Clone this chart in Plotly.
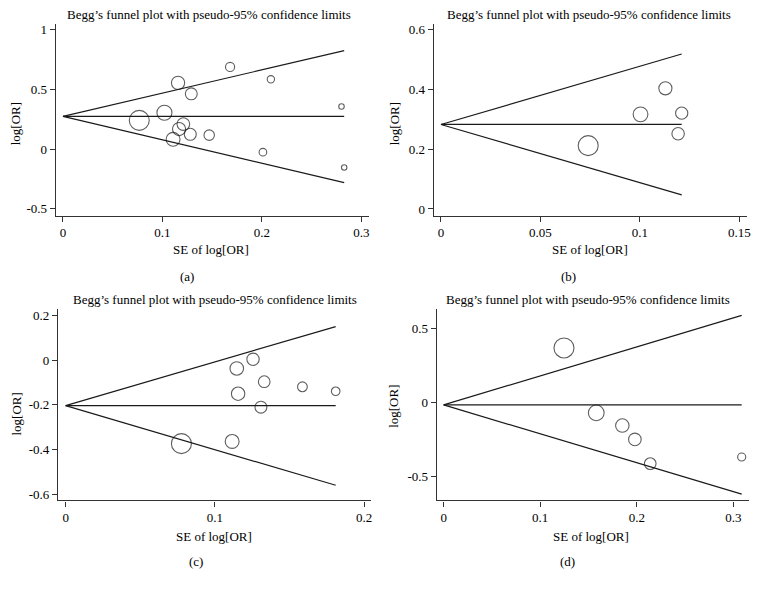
import plotly.graph_objects as go

# ---------------- data ----------------
# Panel (a)
a_se = [0.0767, 0.102, 0.1157, 0.129, 0.121, 0.1167, 0.1107, 0.128, 0.147, 0.168, 0.209, 0.280, 0.201, 0.2827]
a_logor = [0.242, 0.306, 0.556, 0.464, 0.211, 0.169, 0.083, 0.125, 0.118, 0.689, 0.586, 0.358, -0.025, -0.153]
a_pooled = 0.275
a_se_end = 0.2827
a_upper_end = 0.826
a_lower_end = -0.280

# Panel (b)
b_se = [0.074, 0.1003, 0.1128, 0.121, 0.1192]
b_logor = [0.212, 0.317, 0.404, 0.321, 0.252]
b_pooled = 0.283
b_se_end = 0.121
b_upper_end = 0.519
b_lower_end = 0.047

# Panel (c)
c_se = [0.0776, 0.1116, 0.1147, 0.1256, 0.1156, 0.1331, 0.1309, 0.1587, 0.181]
c_logor = [-0.373, -0.363, -0.037, 0.004, -0.150, -0.096, -0.210, -0.119, -0.139]
c_pooled = -0.203
c_se_end = 0.181
c_upper_end = 0.150
c_lower_end = -0.559

# Panel (d)
d_se = [0.1246, 0.158, 0.185, 0.198, 0.2139, 0.3086]
d_logor = [0.368, -0.072, -0.158, -0.252, -0.416, -0.371]
d_pooled = -0.018
d_se_end = 0.3086
d_upper_end = 0.589
d_lower_end = -0.623

# Tick labels
a_xticks = [0, 0.1, 0.2, 0.3]
a_xtext = ["0", "0.1", "0.2", "0.3"]
a_yticks = [-0.5, 0, 0.5, 1]
a_ytext = ["-0.5", "0", "0.5", "1"]
b_xticks = [0, 0.05, 0.1, 0.15]
b_xtext = ["0", "0.05", "0.1", "0.15"]
b_yticks = [0, 0.2, 0.4, 0.6]
b_ytext = ["0", "0.2", "0.4", "0.6"]
c_xticks = [0, 0.1, 0.2]
c_xtext = ["0", "0.1", "0.2"]
c_yticks = [-0.6, -0.4, -0.2, 0, 0.2]
c_ytext = ["-0.6", "-0.4", "-0.2", "0", "0.2"]
d_xticks = [0, 0.1, 0.2, 0.3]
d_xtext = ["0", "0.1", "0.2", "0.3"]
d_yticks = [-0.5, 0, 0.5]
d_ytext = ["-0.5", "0", "0.5"]

title_text = "Begg\u2019s funnel plot with pseudo-95% confidence limits"
xtitle_text = "SE of log[OR]"
ytitle_text = "log[OR]"
panel_labels = ["(a)", "(b)", "(c)", "(d)"]

# ---------------- layout helpers ----------------
W, H = 762, 589
FONT = "Liberation Serif, Times New Roman, serif"
LINE_COL = "#1a1a1a"
AXIS_COL = "#333333"
TEXT_COL = "#000000"

def px_x(p):
    return p / W

def px_y(p):
    return 1 - p / H

panels = [
    dict(se=a_se, lo=a_logor, pooled=a_pooled, se_end=a_se_end, up=a_upper_end, low=a_lower_end,
         xt=a_xticks, xtt=a_xtext, yt=a_yticks, ytt=a_ytext,
         xpx=(56, 370.7), ypx=(23, 215.7), xr=(-0.0073, 0.3074), yr=(-0.556, 1.05),
         title=(210, 14), xtitle=(212, 250), ytitle=(15, 123), lab=(188, 277)),
    dict(se=b_se, lo=b_logor, pooled=b_pooled, se_end=b_se_end, up=b_upper_end, low=b_lower_end,
         xt=b_xticks, xtt=b_xtext, yt=b_yticks, ytt=b_ytext,
         xpx=(436, 750.7), ypx=(23, 215.7), xr=(-0.00365, 0.1537), yr=(-0.0223, 0.62),
         title=(592, 14), xtitle=(593, 250), ytitle=(396, 123), lab=(571, 277)),
    dict(se=c_se, lo=c_logor, pooled=c_pooled, se_end=c_se_end, up=c_upper_end, low=c_lower_end,
         xt=c_xticks, xtt=c_xtext, yt=c_yticks, ytt=c_ytext,
         xpx=(58.3, 372.7), ypx=(310, 502), xr=(-0.00513, 0.2045), yr=(-0.6267, 0.2267),
         title=(216, 300), xtitle=(215, 538), ytitle=(16.7, 415), lab=(196.7, 563)),
    dict(se=d_se, lo=d_logor, pooled=d_pooled, se_end=d_se_end, up=d_upper_end, low=d_lower_end,
         xt=d_xticks, xtt=d_xtext, yt=d_yticks, ytt=d_ytext,
         xpx=(439, 752.7), ypx=(310, 502), xr=(-0.0072, 0.3159), yr=(-0.6655, 0.629),
         title=(591, 300), xtitle=(594, 538), ytitle=(396, 407), lab=(570, 563)),
]

fig = go.Figure()
annotations = []

for i, p in enumerate(panels):
    n = "" if i == 0 else str(i + 1)
    xa, ya = "x" + n, "y" + n
    # funnel lines (pseudo-95% limits and pooled estimate)
    for yend in (p["up"], p["pooled"], p["low"]):
        fig.add_trace(go.Scatter(x=[0, p["se_end"]], y=[p["pooled"], yend], mode="lines",
                                 line=dict(color=LINE_COL, width=1.2), xaxis=xa, yaxis=ya,
                                 showlegend=False, hoverinfo="skip"))
    # study markers: size inversely proportional to SE
    smin = min(p["se"])
    sizes = [20 * smin / s for s in p["se"]]
    fig.add_trace(go.Scatter(x=p["se"], y=p["lo"], mode="markers",
                             marker=dict(symbol="circle-open", size=sizes, color=LINE_COL,
                                         line=dict(width=1.1, color=LINE_COL)),
                             xaxis=xa, yaxis=ya, showlegend=False))

    axis_common = dict(showgrid=False, zeroline=False, showline=True, linecolor=AXIS_COL,
                       linewidth=1.2, ticks="outside", ticklen=5, tickwidth=1, tickcolor=AXIS_COL,
                       tickfont=dict(family=FONT, size=13, color=TEXT_COL), tickmode="array",
                       ticklabeloverflow="allow")
    fig.update_layout(**{
        ("xaxis" + n): dict(axis_common, domain=[px_x(p["xpx"][0]), px_x(p["xpx"][1])],
                            range=list(p["xr"]), tickvals=p["xt"], ticktext=p["xtt"], anchor=ya),
        ("yaxis" + n): dict(axis_common, domain=[px_y(p["ypx"][1]), px_y(p["ypx"][0])],
                            range=list(p["yr"]), tickvals=p["yt"], ticktext=p["ytt"], anchor=xa),
    })

    common_font = dict(family=FONT, size=13, color=TEXT_COL)
    annotations.append(dict(text=title_text, x=px_x(p["title"][0]), y=px_y(p["title"][1]),
                            xref="paper", yref="paper", showarrow=False, xanchor="center",
                            yanchor="middle", font=common_font))
    annotations.append(dict(text=xtitle_text, x=px_x(p["xtitle"][0]), y=px_y(p["xtitle"][1]),
                            xref="paper", yref="paper", showarrow=False, xanchor="center",
                            yanchor="middle", font=common_font))
    annotations.append(dict(text=ytitle_text, x=px_x(p["ytitle"][0]), y=px_y(p["ytitle"][1]),
                            xref="paper", yref="paper", showarrow=False, xanchor="center",
                            yanchor="middle", textangle=-90, font=common_font))
    annotations.append(dict(text=panel_labels[i], x=px_x(p["lab"][0]), y=px_y(p["lab"][1]),
                            xref="paper", yref="paper", showarrow=False, xanchor="center",
                            yanchor="middle", font=common_font))

fig.update_layout(width=W, height=H, margin=dict(l=0, r=0, t=0, b=0),
                  paper_bgcolor="white", plot_bgcolor="white",
                  annotations=annotations, showlegend=False)

fig.write_html("out.html", config={"displayModeBar": False},
               post_script="document.body.style.margin='0';document.body.style.overflow='hidden';")
